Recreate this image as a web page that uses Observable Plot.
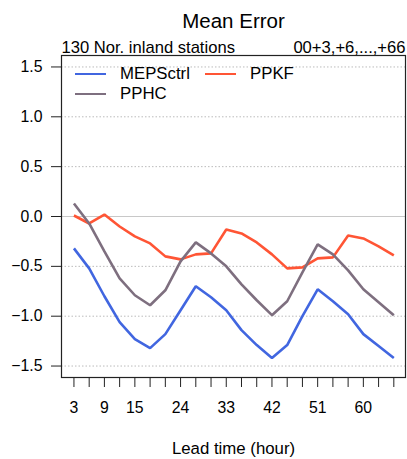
<!DOCTYPE html>
<html>
<head>
<meta charset="utf-8">
<script src="https://cdn.jsdelivr.net/npm/d3@7"></script>
<script src="https://cdn.jsdelivr.net/npm/@observablehq/plot@0.6"></script>
<style>
  html, body { margin: 0; padding: 0; background: #fff; }
  #wrap { position: relative; width: 407px; height: 459px; font-family: "Liberation Sans", Arial, Helvetica, sans-serif; }
  #legend { position: absolute; left: 0; top: 0; width: 407px; height: 120px; pointer-events: none; }
  .item { position: absolute; display: flex; align-items: center; font-size: 16.8px; color: #000; white-space: nowrap; }
  .swatch { width: 31px; height: 2.6px; margin-right: 14px; }
</style>
</head>
<body>
<div id="wrap"></div>
<script>
const leadTimes = [3, 6, 9, 12, 15, 18, 21, 24, 27, 30, 33, 36, 39, 42, 45, 48, 51, 54, 57, 60, 63, 66];
const mepsctrl = [-0.32, -0.52, -0.80, -1.06, -1.23, -1.32, -1.18, -0.94, -0.70, -0.81, -0.94, -1.14, -1.29, -1.42, -1.29, -1.00, -0.73, -0.85, -0.98, -1.18, -1.30, -1.42];
const ppkf     = [0.01, -0.07, 0.02, -0.10, -0.20, -0.27, -0.40, -0.43, -0.38, -0.37, -0.13, -0.17, -0.26, -0.38, -0.52, -0.51, -0.42, -0.41, -0.19, -0.22, -0.30, -0.39];
const pphc     = [0.13, -0.07, -0.35, -0.62, -0.79, -0.89, -0.74, -0.45, -0.26, -0.37, -0.50, -0.68, -0.84, -0.99, -0.85, -0.56, -0.28, -0.38, -0.54, -0.73, -0.86, -0.99];
const seriesNames = ["MEPSctrl", "PPKF", "PPHC"];
const seriesColors = ["#4166e0", "#ff5535", "#7e6f7f"];
const xTickLabels = [3, 9, 15, 24, 33, 42, 51, 60];
const yTicks = [-1.5, -1.0, -0.5, 0.0, 0.5, 1.0, 1.5];
const title = "Mean Error";
const subLeft = "130 Nor. inland stations";
const subRight = "00+3,+6,...,+66";
const xLabel = "Lead time (hour)";

const seriesValues = [mepsctrl, ppkf, pphc];
const rows = [];
seriesNames.forEach((name, s) => {
  leadTimes.forEach((t, i) => rows.push({series: name, lead: t, value: seriesValues[s][i]}));
});

const fmt = d3.format(".1f");

const chart = Plot.plot({
  width: 407,
  height: 459,
  marginLeft: 61,
  marginRight: 2,
  marginTop: 55,
  marginBottom: 82,
  style: {fontFamily: "'Liberation Sans', Arial, Helvetica, sans-serif", fontSize: "15px", color: "#000", background: "#fff"},
  x: {domain: [0.55, 68.3]},
  y: {domain: [-1.615, 1.615]},
  color: {domain: seriesNames, range: seriesColors},
  marks: [
    Plot.gridY(yTicks.filter(d => d !== 0), {stroke: "#bbb", strokeOpacity: 1, strokeDasharray: "1.5,2", strokeWidth: 1}),
    Plot.ruleY([0], {stroke: "#c8c8c8", strokeWidth: 1.2}),
    Plot.line(rows, {x: "lead", y: "value", z: "series", stroke: "series", strokeWidth: 2.6, strokeLinejoin: "miter", strokeLinecap: "butt"}),
    Plot.frame({stroke: "#222", strokeWidth: 1.2}),
    Plot.axisY(yTicks, {tickSize: 10, tickPadding: 9, tickFormat: fmt, fontSize: 15.8, stroke: "#222", label: null}),
    Plot.axisX(leadTimes, {tickSize: 10, tickPadding: 14, tickFormat: d => xTickLabels.includes(d) ? String(d) : "", fontSize: 15.8, stroke: "#222", label: null}),
    Plot.text([title], {frameAnchor: "top", dy: -28, lineAnchor: "bottom", fontSize: 20.5}),
    Plot.text([subLeft], {frameAnchor: "top-left", dx: 0, dy: -3, lineAnchor: "bottom", textAnchor: "start", fontSize: 16.6}),
    Plot.text([subRight], {frameAnchor: "top-right", dx: 0, dy: -3, lineAnchor: "bottom", textAnchor: "end", fontSize: 16.6}),
    Plot.text([xLabel], {frameAnchor: "bottom", dy: 76, lineAnchor: "bottom", fontSize: 16.8})
  ]
});

const wrap = document.getElementById("wrap");
wrap.appendChild(chart);

// legend overlay built from series arrays
const legend = document.createElement("div");
legend.id = "legend";
const legendPos = [[75, 74], [205, 74], [75, 94]];
seriesNames.forEach((name, i) => {
  const item = document.createElement("div");
  item.className = "item";
  item.style.left = legendPos[i][0] + "px";
  item.style.top = (legendPos[i][1] - 10) + "px";
  item.style.height = "20px";
  const sw = document.createElement("div");
  sw.className = "swatch";
  sw.style.background = seriesColors[i];
  item.appendChild(sw);
  const label = document.createElement("span");
  label.textContent = name;
  item.appendChild(label);
  legend.appendChild(item);
});
wrap.appendChild(legend);
</script>
</body>
</html>
